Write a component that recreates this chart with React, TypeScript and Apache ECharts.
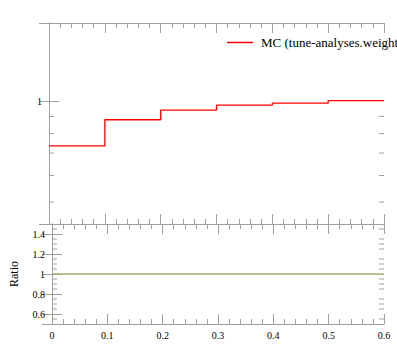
import React, { useEffect, useRef } from "react";
import * as echarts from "echarts";

const binEdges = [0, 0.1, 0.2, 0.3, 0.4, 0.5, 0.6];
const mcValues = [0.735, 0.88, 0.94, 0.973, 0.986, 1.004];
const ratioValues = [1, 1, 1, 1, 1, 1];
const seriesName = "MC (tune-analyses.weight";
const topMinorTicks = [0.5, 0.6, 0.7, 0.8, 0.9];
const ratioMinorTicks = [0.55, 0.65, 0.7, 0.75, 0.85, 0.9, 0.95, 1.05, 1.1, 1.15, 1.25, 1.3, 1.35, 1.45];

const FONT = "Liberation Serif";
const FRAME = "#a0a0a0";

function stepData(vals: number[]) {
  return binEdges.map((x, i) => [x, vals[Math.min(i, vals.length - 1)]]);
}

function minorTickSeries(ticks: number[], xi: number, yi: number, xmin: number, xmax: number) {
  return {
    type: "custom",
    xAxisIndex: xi,
    yAxisIndex: yi,
    silent: true,
    clip: false,
    data: ticks.map((v) => [xmin, v]),
    renderItem: (params: any, api: any) => {
      const v = api.value(1);
      const l = api.coord([xmin, v]);
      const r = api.coord([xmax, v]);
      const st = { stroke: FRAME, lineWidth: 1 };
      return {
        type: "group",
        children: [
          { type: "line", shape: { x1: l[0], y1: l[1], x2: l[0] + 5, y2: l[1] }, style: st },
          { type: "line", shape: { x1: r[0], y1: r[1], x2: r[0] - 5, y2: r[1] }, style: st },
        ],
      };
    },
  };
}

export default function App() {
  const ref = useRef<HTMLDivElement>(null);
  useEffect(() => {
    if (!ref.current) return;
    const chart = echarts.init(ref.current, undefined, { renderer: "svg" });
    const axisLine = { show: true, lineStyle: { color: FRAME, width: 1 } };
    const xCommon = (gridIndex: number, position: string, labels: boolean) => ({
      type: "value",
      gridIndex,
      position,
      min: 0,
      max: 0.6,
      interval: 0.1,
      axisLine,
      axisTick: { show: true, inside: true, length: 10, lineStyle: { color: FRAME } },
      minorTick: { show: true, splitNumber: 5, length: 5, lineStyle: { color: FRAME } },
      axisLabel: labels
        ? { show: true, fontFamily: FONT, fontSize: 10, color: "#000", margin: 6 }
        : { show: false },
      splitLine: { show: false },
    });
    const edgeFmt = (lo: number, hi: number) => (v: number) =>
      Math.abs(v - lo) < 1e-9 || Math.abs(v - hi) < 1e-9 ? "" : String(v);
    const option: any = {
      animation: false,
      backgroundColor: "#fff",
      textStyle: { fontFamily: FONT },
      grid: [
        { left: 49, top: 23, width: 335, height: 201, containLabel: false },
        { left: 49, top: 224, width: 335, height: 100, containLabel: false },
      ],
      legend: {
        show: true,
        left: 227,
        top: 36,
        padding: 0,
        itemWidth: 26,
        itemHeight: 1.5,
        itemGap: 0,
        data: [{ name: seriesName, icon: "rect" }],
        itemStyle: { color: "#ff0000" },
        textStyle: { fontFamily: FONT, fontSize: 13, color: "#000", padding: [0, 0, 0, 3] },
      },
      xAxis: [
        xCommon(0, "bottom", false),
        xCommon(0, "top", false),
        xCommon(1, "bottom", true),
        xCommon(1, "top", false),
      ],
      yAxis: [
        {
          type: "log",
          logBase: 10,
          gridIndex: 0,
          position: "left",
          min: 0.43,
          max: 1.71,
          axisLine,
          axisTick: { show: true, inside: true, length: 10, lineStyle: { color: FRAME } },
          axisLabel: { fontFamily: FONT, fontSize: 10, color: "#000", margin: 7, formatter: edgeFmt(0.43, 1.71) },
          splitLine: { show: false },
        },
        {
          type: "log",
          logBase: 10,
          gridIndex: 0,
          position: "right",
          min: 0.43,
          max: 1.71,
          axisLine,
          axisTick: { show: true, inside: true, length: 10, lineStyle: { color: FRAME } },
          axisLabel: { show: false },
          splitLine: { show: false },
        },
        {
          type: "value",
          gridIndex: 1,
          position: "left",
          min: 0.5,
          max: 1.5,
          splitNumber: 5,
          name: "Ratio",
          nameLocation: "middle",
          nameRotate: 90,
          nameGap: 32,
          nameTextStyle: { fontFamily: FONT, fontSize: 12, color: "#000" },
          axisLine,
          axisTick: { show: true, inside: true, length: 10, lineStyle: { color: FRAME } },
          axisLabel: { fontFamily: FONT, fontSize: 10, color: "#000", margin: 7, formatter: edgeFmt(0.5, 1.5) },
          splitLine: { show: false },
        },
        {
          type: "value",
          gridIndex: 1,
          position: "right",
          min: 0.5,
          max: 1.5,
          splitNumber: 5,
          axisLine,
          axisTick: { show: true, inside: true, length: 10, lineStyle: { color: FRAME } },
          axisLabel: { show: false },
          splitLine: { show: false },
        },
      ],
      series: [
        {
          name: seriesName,
          type: "line",
          xAxisIndex: 0,
          yAxisIndex: 0,
          step: "end",
          symbol: "none",
          data: stepData(mcValues),
          lineStyle: { color: "#ff0000", width: 1.3 },
          itemStyle: { color: "#ff0000" },
        },
        {
          name: "ratio",
          type: "line",
          xAxisIndex: 2,
          yAxisIndex: 2,
          step: "end",
          symbol: "none",
          data: stepData(ratioValues),
          lineStyle: { color: "#a9a97a", width: 1.3 },
        },
        minorTickSeries(topMinorTicks, 0, 0, 0, 0.6),
        minorTickSeries(ratioMinorTicks, 2, 2, 0, 0.6),
      ],
    };
    chart.setOption(option);
    return () => chart.dispose();
  }, []);
  return (
    <div
      ref={ref}
      style={{ position: "fixed", left: 0, top: 0, width: 397, height: 358, background: "#fff" }}
    />
  );
}
